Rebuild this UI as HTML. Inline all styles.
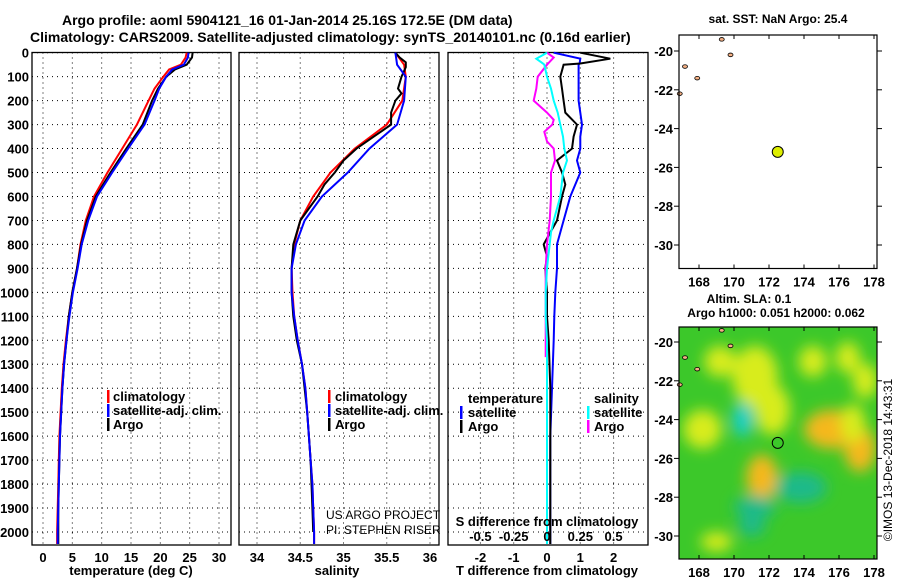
<!DOCTYPE html>
<html><head><meta charset="utf-8"><style>
body{margin:0;background:#fff}
svg{display:block;font-family:"Liberation Sans",sans-serif;font-weight:bold}
</style></head><body>
<svg id="c" width="900" height="580" viewBox="0 0 900 580" xmlns="http://www.w3.org/2000/svg">
<defs>
<filter id="blur" x="-50%" y="-50%" width="200%" height="200%"><feGaussianBlur stdDeviation="7"/></filter>
<clipPath id="m2clip"><rect x="679" y="327" width="198" height="232"/></clipPath>
</defs>
<text x="62" y="25" font-size="14">Argo profile: aoml 5904121_16 01-Jan-2014 25.16S 172.5E (DM data)</text>
<text x="30" y="42" font-size="14">Climatology: CARS2009. Satellite-adjusted climatology: synTS_20140101.nc (0.16d earlier)</text>
<g id="plots"></g>
</svg>
<script>
// ---- data ----
const tDepth = [0,20,50,70,100,150,200,300,400,500,600,700,800,900,1000,1100,1200,1300,1400,1500,1600,1700,1800,1900,2000,2050];
const tArgo  = [25.5,25.4,24.5,22.5,21,19.6,18.6,17,14.2,11.5,9,7.5,6.5,5.8,5,4.4,4,3.6,3.3,3.1,2.9,2.8,2.7,2.6,2.6,2.6];
const tClim  = [24.5,24.3,23.5,21.5,20.5,19,18,16,13.5,11,8.7,7.3,6.4,5.8,5,4.4,3.9,3.5,3.2,3.0,2.8,2.7,2.6,2.5,2.4,2.4];
const tSat   = [24.8,24.7,24,22,21,19.8,19,17.3,14.5,11.8,9.2,7.7,6.6,5.9,5.1,4.5,4,3.6,3.3,3.1,2.9,2.8,2.7,2.6,2.5,2.5];
const sDepth = [0,20,40,60,100,150,170,200,250,300,350,400,450,500,550,600,650,700,800,900,1000,1100,1200,1300,1400,1500,1600,1700,1800,1900,2000];
const sArgo  = [35.6,35.65,35.72,35.72,35.67,35.63,35.67,35.6,35.55,35.55,35.35,35.15,35.0,34.9,34.78,34.7,34.6,34.5,34.42,34.4,34.4,34.42,34.46,34.52,34.55,34.58,34.6,34.62,34.63,34.64,34.65];
const sClimDepth = [0,50,100,200,300,400,500,600,700,800,900,1000,1100,1200,1300,1400,1500,1600,1700,1800,1900,2000,2050];
const sClim  = [35.6,35.7,35.72,35.68,35.5,35.13,34.85,34.65,34.5,34.43,34.4,34.41,34.43,34.47,34.52,34.56,34.58,34.6,34.62,34.64,34.65,34.66,34.66];
const sSat   = [35.6,35.62,35.72,35.7,35.62,35.3,35.05,34.75,34.55,34.45,34.4,34.4,34.43,34.47,34.52,34.56,34.58,34.6,34.62,34.64,34.65,34.66,34.66];
const dDepth = [0,25,45,50,100,150,200,250,300,350,400,450,500,550,600,700,750,800,850,900,1000,1100,1200,1400,1600,2000,2050];
const dTSat  = [0.2,1.0,0.98,0.95,0.95,0.95,0.95,1.0,1.05,1.0,1.0,0.9,1.0,0.85,0.7,0.5,0.4,0.3,0.3,0.3,0.25,0.22,0.2,0.15,0.1,0.1,0.1];
const dTArgo = [1.0,1.9,1.0,0.5,0.4,0.45,0.5,0.55,0.9,0.8,0.75,0.3,0.45,0.55,0.45,0.3,0.1,-0.1,0.0,-0.05,0.0,0.0,0.05,0.1,0.1,0.1,0.1];
const dSSat  = [0,-0.08,-0.03,-0.02,0,0.03,0.05,0.08,0.1,0.12,0.13,0.15,0.12,0.11,0.1,0.05,0.03,0.02,0.01,0,-0.01,-0.01,0,0,0,0,0];
const dSArgoDepth = [0,20,50,100,150,200,250,280,300,330,370,400,450,500,600,700,800,900,1000,1200,1270];
const dSArgo = [0,0.05,0,-0.07,-0.08,-0.1,0,0.05,0.04,-0.02,0,0.05,0.06,0.03,0.03,0.02,0,-0.01,-0.01,-0.01,-0.01];
const depthTicks = [0,100,200,300,400,500,600,700,800,900,1000,1100,1200,1300,1400,1500,1600,1700,1800,1900,2000];
const tTicks = [0,5,10,15,20,25,30];
const sTicks = [34,34.5,35,35.5,36];
const dTTicks = [-2,-1,0,1,2];
const dSTicks = [-0.5,-0.25,0,0.25,0.5];
const dSTickLabels = ['-0.5','-0.25','0','0.25','0.5'];
const latTicks = [-20,-22,-24,-26,-28,-30];
const lonTicks = [168,170,172,174,176,178];
const argoPos = [172.5,-25.2];
const slaLon = [171.2,172.2,175.6,177.2,171.6,168.2,169.2,170.5,176.8,173.8,171.2,176.5,169,177.5,174.5,171];
const slaLat = [-21.8,-23.5,-24.5,-25.5,-27,-24.5,-21,-24,-24.2,-27.5,-28.5,-20.8,-30.3,-22,-21,-29.5];
const slaRx  = [1.3,1.0,1.6,0.9,0.9,1.1,0.9,0.6,0.7,1.5,1.2,0.7,0.9,0.7,0.8,0.8];
const slaRy  = [1.6,1.3,1.0,1.2,1.2,1.0,0.8,0.9,1.0,0.8,0.6,0.8,0.5,0.9,0.8,0.5];
const slaType= ['y','y','o','o','o','y','y','c','y','t','t','y','y','y','y','t'];

// ---- helpers ----
const svg = document.getElementById('plots');
const NS = 'http://www.w3.org/2000/svg';
function mk(tag, attrs, parent){const e=document.createElementNS(NS,tag);for(const k in attrs)e.setAttribute(k,attrs[k]);(parent||svg).appendChild(e);return e;}
function lin(d0,d1,r0,r1){return v=>r0+(v-d0)*(r1-r0)/(d1-d0);}
const Y = lin(0,2000,52.7,532);
const TOP=52.5, BOT=545;

function panel(name,x0,x1,xs,xticks,xlabels,ylabels){
  const g=mk('g',{});
  
  
  depthTicks.forEach(d=>{
    const l=mk('line',{x1:x0,x2:x1,y1:Y(d),y2:Y(d),stroke:'#000','stroke-width':1,'stroke-dasharray':'1,4'},g);
    
    
    if(ylabels){const t=mk('text',{x:x0-3,y:Y(d)+5,'text-anchor':'end','font-size':13},g);t.textContent=d;
      
      }
  });
  xticks.forEach((v,i)=>{
    const l=mk('line',{x1:xs(v),x2:xs(v),y1:TOP,y2:BOT,stroke:'#000','stroke-width':1,'stroke-dasharray':'1,4'},g);
    
    
    const t=mk('text',{x:xs(v),y:562,'text-anchor':'middle','font-size':13},g);t.textContent=xlabels[i];
    
    
  });
  const r=mk('rect',{x:x0,y:TOP,width:x1-x0,height:BOT-TOP,fill:'none',stroke:'#000','stroke-width':1.3},g);
  
  
  return g;
}
function line(g,xs,vals,depths,color,name,w){
  const pts=vals.map((v,i)=>xs(v).toFixed(1)+','+Math.min(Y(depths[i]),BOT).toFixed(1)).join(' ');
  const p=mk('polyline',{points:pts,fill:'none',stroke:color,'stroke-width':w||2},g);
  
  
}
function txt(g,x,y,s,size,name,anchor,weight){
  const t=mk('text',{x:x,y:y,'font-size':size||13,'text-anchor':anchor||'start'},g);
  if(weight)t.setAttribute('font-weight',weight);
  t.textContent=s;
  
  
  return t;
}
function legMark(g,x,y,color){
  const r=mk('rect',{x:x,y:y-11,width:2.5,height:13,fill:color},g);
  
  
}

// ---- panel 1 temperature ----
const XT = lin(0,30,43,219);
const g1 = panel('temperature-panel',32,231,XT,tTicks,tTicks.map(String),true);
line(g1,XT,tClim,tDepth,'#f00','temp-climatology-line');
line(g1,XT,tArgo,tDepth,'#000','temp-argo-line');
line(g1,XT,tSat,tDepth,'#00f','temp-satellite-line');
txt(g1,131,575,'temperature (deg C)',13,'x-axis-title','middle');
[['climatology','#f00'],['satellite-adj. clim.','#00f'],['Argo','#000']].forEach((e,i)=>{legMark(g1,107,401+i*14,e[1]);txt(g1,113,401+i*14,e[0],13,'legend-entry');});

// ---- panel 2 salinity ----
const XS = lin(34,36,257,430);
const g2 = panel('salinity-panel',239,439,XS,sTicks,['34','34.5','35','35.5','36'],false);
line(g2,XS,sClim,sClimDepth,'#f00','sal-climatology-line');
line(g2,XS,sArgo,sDepth,'#000','sal-argo-line');
line(g2,XS,sSat,sClimDepth,'#00f','sal-satellite-line');
txt(g2,337,575,'salinity',13,'x-axis-title','middle');
[['climatology','#f00'],['satellite-adj. clim.','#00f'],['Argo','#000']].forEach((e,i)=>{legMark(g2,328,401+i*14,e[1]);txt(g2,335,401+i*14,e[0],13,'legend-entry');});
txt(g2,326,519,'US ARGO PROJECT',12,'credit-project','start','normal');
txt(g2,326,534,'PI: STEPHEN RISER',12,'credit-pi','start','normal');

// ---- panel 3 differences ----
const XD = lin(0,1,547,580.3);
const XDS = v=>XD(v*4);
const g3 = panel('difference-panel',448,648,XD,dTTicks,dTTicks.map(String),false);
line(g3,XD,dTSat,dDepth,'#00f','tdiff-satellite-line');
line(g3,XD,dTArgo,dDepth,'#000','tdiff-argo-line');
line(g3,XDS,dSArgo,dSArgoDepth,'#f0f','sdiff-argo-line');
line(g3,XDS,dSSat,dDepth,'#0ff','sdiff-satellite-line');
dSTicks.forEach((v,i)=>txt(g3,XDS(v),541,dSTickLabels[i],13,'s-tick-label','middle'));
txt(g3,547,526,'S difference from climatology',13,'s-axis-title','middle');
txt(g3,547,575,'T difference from climatology',13,'x-axis-title','middle');
txt(g3,468,403,'temperature',13,'legend-heading-temp');
txt(g3,594,403,'salinity',13,'legend-heading-sal');
[['satellite','#00f'],['Argo','#000']].forEach((e,i)=>{legMark(g3,460,417+i*14,e[1]);txt(g3,468,417+i*14,e[0],13,'legend-entry');});
[['satellite','#0ff'],['Argo','#f0f']].forEach((e,i)=>{legMark(g3,587,417+i*14,e[1]);txt(g3,594,417+i*14,e[0],13,'legend-entry');});

// ---- maps ----
const MX = lin(168,178,699,874);
function map(name,top,bot,latY,filled){
  const g=mk('g',{});
  
  
  const LY = lin(-20,-30,latY[0],latY[1]);
  if(filled){
    const bg=mk('rect',{x:679,y:top,width:198,height:bot-top,fill:'#3cc82a'},g);
    
    
    const bl=mk('g',{'clip-path':'url(#m2clip)'},g);
    const bi=mk('g',{filter:'url(#blur)'},bl);
    const col={y:'#d8ec1e',o:'#f5b81e',c:'#1fcfc8',t:'#1fba8a'};
    slaLon.forEach((lo,i)=>{
      const e=mk('ellipse',{cx:MX(lo),cy:LY(slaLat[i]),rx:slaRx[i]*17.5,ry:slaRy[i]*19.4,fill:col[slaType[i]]},bi);
      
      
    });
  }
  [[169.3,-19.4],[167.2,-20.8],[167.9,-21.4],[166.9,-22.2],[169.8,-20.2]].forEach(p=>{
    const e=mk('ellipse',{cx:MX(p[0]),cy:LY(p[1]),rx:2.5,ry:1.8,fill:'#f4b084',stroke:'#000','stroke-width':0.8},g);
    
    
  });
  const f=mk('rect',{x:679,y:top,width:198,height:bot-top,fill:'none',stroke:'#000','stroke-width':1.2},g);
  
  
  latTicks.forEach(v=>{
    mk('line',{x1:674,x2:679,y1:LY(v),y2:LY(v),stroke:'#000'},g);
    mk('line',{x1:877,x2:882,y1:LY(v),y2:LY(v),stroke:'#000'},g);
    txt(g,673,LY(v)+5,String(v),13,'lat-tick-label','end');
  });
  lonTicks.forEach(v=>{
    mk('line',{x1:MX(v),x2:MX(v),y1:bot,y2:bot-4,stroke:'#000'},g);
    mk('line',{x1:MX(v),x2:MX(v),y1:top,y2:top+4,stroke:'#000'},g);
    txt(g,MX(v),bot+18,String(v),13,'lon-tick-label','middle');
  });
  const c=mk('circle',{cx:MX(argoPos[0]),cy:LY(argoPos[1]),r:5.5,fill:filled?'#3cc82a':'#ddee00',stroke:'#000','stroke-width':1},g);
  
  
  return g;
}
map('sst-map',35,268.5,[51,245],false);
map('sla-map',327,559,[342,536],true);
txt(svg,778,23,'sat. SST: NaN Argo: 25.4',12,'sst-map-title','middle');
txt(svg,749,303,'Altim. SLA: 0.1',12,'sla-map-title','middle');
txt(svg,776,317,'Argo h1000: 0.051 h2000: 0.062',12,'sla-map-subtitle','middle');
const im=txt(svg,0,0,'©IMOS 13-Dec-2018 14:43:31',12,'imos-credit','middle','normal');
im.setAttribute('transform','translate(892,460) rotate(-90)');
</script>
</body></html>
